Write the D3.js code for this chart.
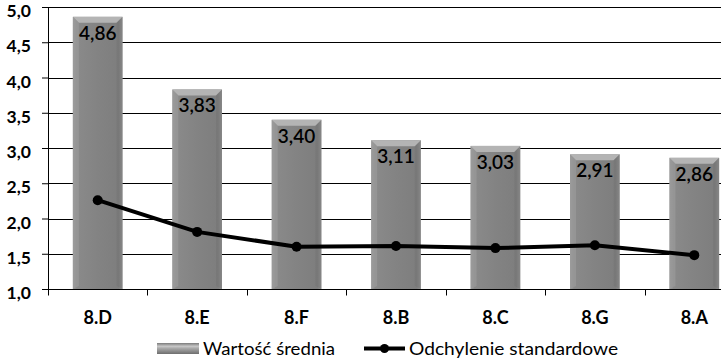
<!DOCTYPE html>
<html><head><meta charset="utf-8">
<script src="https://cdn.jsdelivr.net/npm/d3@7"></script>
<style>body{margin:0;background:#fff;overflow:hidden}svg{display:block}</style>
</head><body>
<svg id="c" width="721" height="359"></svg>
<script>
const categories = ["8.D","8.E","8.F","8.B","8.C","8.G","8.A"];
const meanValues = [4.86,3.83,3.40,3.11,3.03,2.91,2.86];
const sdValues = [2.26,1.81,1.60,1.61,1.58,1.62,1.48];
const yTicks = [1.0,1.5,2.0,2.5,3.0,3.5,4.0,4.5,5.0];
const seriesNames = ["Wartość średnia","Odchylenie standardowe"];

const svg = d3.select("#c");
const fmt = v => d3.format(".1f")(v).replace(".", ",");
const fmt2 = v => d3.format(".2f")(v).replace(".", ",");
const FONT = "Lato, 'Open Sans', sans-serif";

const x = d3.scaleBand().domain(categories).range([48, 744]).paddingInner(0.5).paddingOuter(0.25);
const xb = d3.scaleBand().domain(categories).range([48, 744]);
const y = d3.scaleLinear().domain([1, 5]).range([289, 7]);

const defs = svg.append("defs");
const g1 = defs.append("linearGradient").attr("id","barH").attr("x1","0").attr("x2","1").attr("y1","0").attr("y2","0");
[[0,"#9a9a9a"],[0.08,"#8a8a8a"],[0.5,"#838383"],[0.92,"#7e7e7e"],[1,"#969696"]].forEach(([o,c])=>g1.append("stop").attr("offset",o).attr("stop-color",c));
const g2 = defs.append("linearGradient").attr("id","legSw").attr("x1","0").attr("x2","0").attr("y1","0").attr("y2","1");
[[0,"#7a7a7a"],[0.3,"#c8c8c8"],[0.5,"#a8a8a8"],[1,"#6e6e6e"]].forEach(([o,c])=>g2.append("stop").attr("offset",o).attr("stop-color",c));

// gridlines
svg.append("g").selectAll("line").data(yTicks.slice(1)).join("line")
  .attr("x1",48).attr("x2",721).attr("y1",d=>Math.round(y(d))+0.5).attr("y2",d=>Math.round(y(d))+0.5)
  .attr("stroke","#000").attr("stroke-width",1);

// bars
const bars = svg.append("g");
categories.forEach((c,i)=>{
  const bx = x(c), bw = x.bandwidth(), by = y(meanValues[i]), bh = y(1)-by;
  bars.append("rect").attr("x",bx).attr("y",by).attr("width",bw).attr("height",bh).attr("fill","url(#barH)");
  bars.append("path").attr("d",`M${bx},${by}L${bx+bw},${by}L${bx+bw-6},${by+6}L${bx+6},${by+6}Z`).attr("fill","#b4b4b4");
  bars.append("path").attr("d",`M${bx},${by}L${bx+6},${by+6}L${bx+6},${by+bh-3}L${bx},${by+bh}Z`).attr("fill","#9c9c9c").attr("opacity",0.6);
  bars.append("path").attr("d",`M${bx+bw},${by}L${bx+bw-6},${by+6}L${bx+bw-6},${by+bh-3}L${bx+bw},${by+bh}Z`).attr("fill","#707070").attr("opacity",0.4);
  bars.append("text").attr("x",bx+bw/2).attr("y",by+23).attr("text-anchor","middle")
    .attr("font-family",FONT).attr("font-size",19).attr("font-weight",600).attr("fill","#000").text(fmt2(meanValues[i]));
});

// axes
const yAxis = svg.append("g").attr("transform","translate(48,0)").call(d3.axisLeft(y).tickValues(yTicks).tickFormat(fmt).tickSize(6).tickPadding(11));
yAxis.select(".domain").attr("stroke","#000").attr("d","M0.5,7V289");
yAxis.selectAll(".tick line").attr("stroke","#000");
yAxis.selectAll("text").attr("font-family",FONT).attr("font-size",17.5).attr("font-weight",700).attr("fill","#000").attr("dy","0.55em");

const xAxis = svg.append("g").attr("transform","translate(0,289.5)");
xAxis.append("line").attr("x1",48).attr("x2",721).attr("stroke","#000");
xAxis.selectAll("line.t").data(categories).join("line").attr("class","t")
  .attr("x1",d=>Math.round(xb(d))+0.5).attr("x2",d=>Math.round(xb(d))+0.5).attr("y1",0).attr("y2",6).attr("stroke","#000");
xAxis.selectAll("text").data(categories).join("text")
  .attr("x",d=>x(d)+x.bandwidth()/2).attr("y",34).attr("text-anchor","middle")
  .attr("font-family",FONT).attr("font-size",18).attr("font-weight",700).attr("fill","#000").text(d=>d);

// line
const cx = i => x(categories[i]) + x.bandwidth()/2;
svg.append("path").datum(sdValues)
  .attr("d", d3.line().x((d,i)=>cx(i)).y(d=>y(d)))
  .attr("fill","none").attr("stroke","#000").attr("stroke-width",4).attr("stroke-linejoin","round");
svg.append("g").selectAll("circle").data(sdValues).join("circle")
  .attr("cx",(d,i)=>cx(i)).attr("cy",d=>y(d)).attr("r",5).attr("fill","#000");

// legend
const lg = svg.append("g");
lg.append("rect").attr("x",157).attr("y",343).attr("width",42).attr("height",11).attr("fill","url(#legSw)");
lg.append("text").attr("x",203).attr("y",355).attr("font-family",FONT).attr("font-size",18).attr("fill","#000")
  .attr("textLength",132).attr("lengthAdjust","spacingAndGlyphs").text(seriesNames[0]);
lg.append("line").attr("x1",364).attr("x2",405).attr("y1",348.5).attr("y2",348.5).attr("stroke","#000").attr("stroke-width",4);
lg.append("circle").attr("cx",384.5).attr("cy",348.5).attr("r",4.5).attr("fill","#000");
lg.append("text").attr("x",409).attr("y",355).attr("font-family",FONT).attr("font-size",18).attr("fill","#000")
  .attr("textLength",209).attr("lengthAdjust","spacingAndGlyphs").text(seriesNames[1]);
</script>
</body></html>
